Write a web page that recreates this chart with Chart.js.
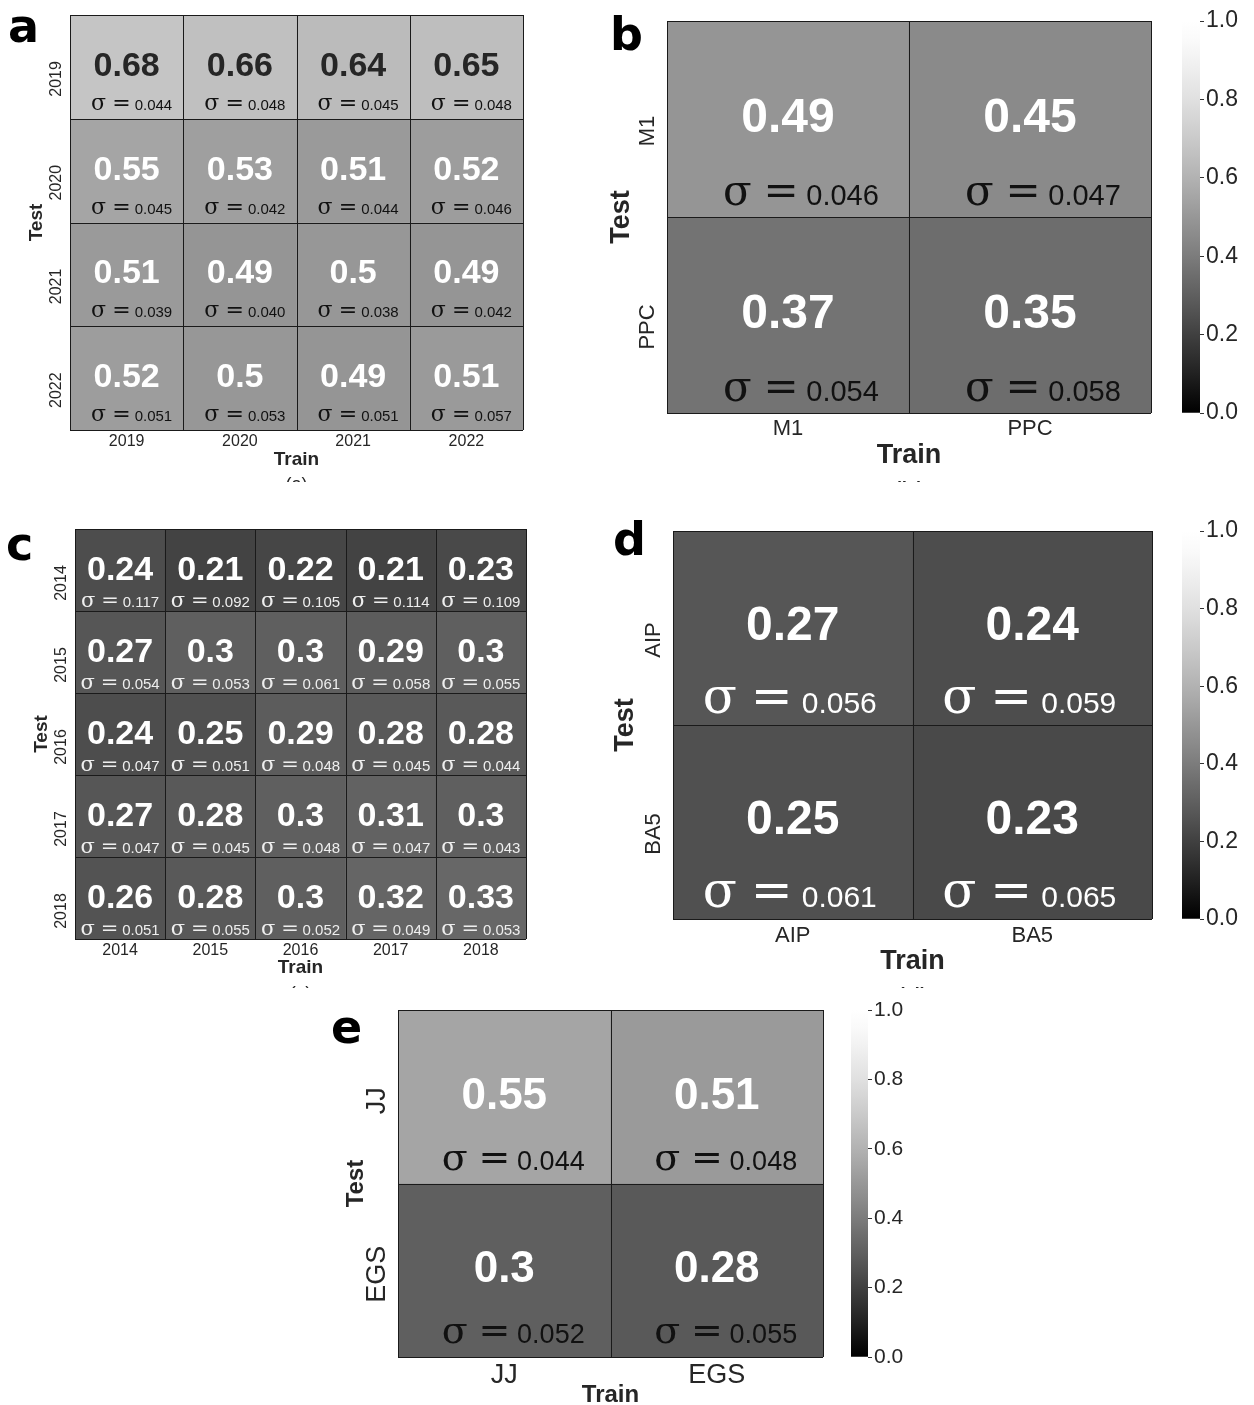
<!DOCTYPE html>
<html>
<head>
<meta charset="utf-8">
<script src="https://cdn.jsdelivr.net/npm/chart.js@4.4.0/dist/chart.umd.min.js"></script>
<style>
body{margin:0;background:#fff}
#fig{position:relative;width:1254px;height:1405px;background:#fff}
#fig canvas{position:absolute}
</style>
</head>
<body>
<div id="fig">
 <canvas id="hmA" width="540" height="482" style="left:0;top:0"></canvas>
 <canvas id="hmB" width="575" height="482" style="left:595px;top:0"></canvas>
 <canvas id="cbB" width="84" height="440" style="left:1170px;top:0"></canvas>
 <canvas id="hmC" width="540" height="498" style="left:0;top:490px"></canvas>
 <canvas id="hmD" width="575" height="498" style="left:595px;top:490px"></canvas>
 <canvas id="cbD" width="84" height="460" style="left:1170px;top:490px"></canvas>
 <canvas id="hmE" width="520" height="415" style="left:320px;top:990px"></canvas>
 <canvas id="cbE" width="80" height="400" style="left:840px;top:990px"></canvas>
</div>
<script>
// (a) train/test across years 2019-2022
const trainA = ['2019','2020','2021','2022'];
const testA  = ['2019','2020','2021','2022'];
const meanA  = [[0.68,0.66,0.64,0.65],[0.55,0.53,0.51,0.52],[0.51,0.49,0.5,0.49],[0.52,0.5,0.49,0.51]];
const sigmaA = [[0.044,0.048,0.045,0.048],[0.045,0.042,0.044,0.046],[0.039,0.040,0.038,0.042],[0.051,0.053,0.051,0.057]];

// (b) M1 / PPC
const trainB = ['M1','PPC'];
const testB  = ['M1','PPC'];
const meanB  = [[0.49,0.45],[0.37,0.35]];
const sigmaB = [[0.046,0.047],[0.054,0.058]];

// (c) years 2014-2018
const trainC = ['2014','2015','2016','2017','2018'];
const testC  = ['2014','2015','2016','2017','2018'];
const meanC  = [[0.24,0.21,0.22,0.21,0.23],[0.27,0.3,0.3,0.29,0.3],[0.24,0.25,0.29,0.28,0.28],[0.27,0.28,0.3,0.31,0.3],[0.26,0.28,0.3,0.32,0.33]];
const sigmaC = [[0.117,0.092,0.105,0.114,0.109],[0.054,0.053,0.061,0.058,0.055],[0.047,0.051,0.048,0.045,0.044],[0.047,0.045,0.048,0.047,0.043],[0.051,0.055,0.052,0.049,0.053]];

// (d) AIP / BA5
const trainD = ['AIP','BA5'];
const testD  = ['AIP','BA5'];
const meanD  = [[0.27,0.24],[0.25,0.23]];
const sigmaD = [[0.056,0.059],[0.061,0.065]];

// (e) JJ / EGS
const trainE = ['JJ','EGS'];
const testE  = ['JJ','EGS'];
const meanE  = [[0.55,0.51],[0.3,0.28]];
const sigmaE = [[0.044,0.048],[0.052,0.055]];

const cbTicks = [0,0.2,0.4,0.6,0.8,1.0];

const SANS = '"Liberation Sans", Arial, sans-serif';
const TXT = '#262626';

// grey colormap, 0 -> black, 1 -> white
function gray(v){
  const t = Math.min(Math.max(v,0),1);
  const g = Math.round(255*(1 - Math.pow(1-t, 1.3)));
  return `rgb(${g},${g},${g})`;
}

function heatmap(id, train, test, mean, sigma, st){
  const n = test.length, m = train.length;
  const datasets = test.map((t,i)=>({
    label:t,
    data: train.map(()=>[n-1-i, n-i]),
    backgroundColor: mean[i].map(gray),
    borderWidth:0,
    barPercentage:1,
    categoryPercentage:1
  }));

  const cellText = {
    id:'cellText',
    afterDraw(chart){
      const {ctx, chartArea:a, scales:{x,y}} = chart;
      ctx.save();
      // cell separators + frame
      ctx.strokeStyle = '#1a1a1a'; ctx.lineWidth = 1;
      ctx.beginPath();
      for(let j=0;j<=m;j++){
        const px = Math.round(x.getPixelForValue(j-0.5))+0.5;
        ctx.moveTo(px, a.top); ctx.lineTo(px, a.bottom);
      }
      for(let k=0;k<=n;k++){
        const py = Math.round(y.getPixelForValue(k))+0.5;
        ctx.moveTo(a.left, py); ctx.lineTo(a.right, py);
      }
      ctx.stroke();

      test.forEach((t,i)=>{
        const top = y.getPixelForValue(n-i), bot = y.getPixelForValue(n-1-i), h = bot-top;
        train.forEach((_,j)=>{
          const cx = x.getPixelForValue(j);
          const v = mean[i][j];
          ctx.textAlign='center'; ctx.textBaseline='alphabetic';
          ctx.font = `bold ${st.val}px ${SANS}`;
          ctx.fillStyle = v > 0.6 ? TXT : '#fff';
          ctx.fillText(String(v), cx, top + h*st.valY + st.val*0.358);
          // sigma annotation
          const sigF = `${st.sig}px "DejaVu Serif", serif`, numF = `${st.num}px ${SANS}`;
          const num = sigma[i][j].toFixed(3);
          ctx.font = sigF;
          const wS = ctx.measureText('σ').width, wE = ctx.measureText('=').width;
          ctx.font = numF;
          const wN = ctx.measureText(num).width;
          const g1 = st.sig*0.28, g2 = st.sig*0.18;
          let sx = cx + st.sigDx - (wS+g1+wE+g2+wN)/2;
          const by = top + h*st.sigY;
          ctx.textAlign='left';
          ctx.fillStyle = st.sigColor;
          ctx.font = sigF; ctx.fillText('σ', sx, by); sx += wS+g1;
          ctx.fillText('=', sx, by); sx += wE+g2;
          ctx.font = numF; ctx.fillText(num, sx, by);
        });
      });
      // tick labels
      ctx.fillStyle = TXT;
      ctx.font = `${st.tick}px ${SANS}`;
      ctx.textAlign='center'; ctx.textBaseline='middle';
      train.forEach((lab,j)=> ctx.fillText(lab, x.getPixelForValue(j), a.bottom + st.xtOff));
      test.forEach((lab,i)=>{
        const cy = y.getPixelForValue(n-i-0.5);
        ctx.save(); ctx.translate(a.left - st.ytOff, cy + st.ytShift); ctx.rotate(-Math.PI/2);
        ctx.fillText(lab,0,0); ctx.restore();
      });
      // axis titles
      ctx.font = `bold ${st.title}px ${SANS}`;
      ctx.fillText('Train', (a.left+a.right)/2, a.bottom + st.trainOff);
      ctx.save(); ctx.translate(a.left - st.testOff, (a.top+a.bottom)/2); ctx.rotate(-Math.PI/2);
      ctx.fillText('Test',0,0); ctx.restore();
      // panel letter
      ctx.textAlign='left'; ctx.textBaseline='alphabetic';
      ctx.fillStyle='#000';
      ctx.font = `bold 46px "DejaVu Sans", sans-serif`;
      ctx.fillText(st.letter, st.lx-2, st.ly);
      // sub-caption, cut by the canvas edge
      if(st.cap){
        ctx.fillStyle = TXT;
        ctx.textAlign='center'; ctx.textBaseline='top';
        ctx.font = `${st.cap.size}px ${SANS}`;
        ctx.fillText('('+st.letter+')', (a.left+a.right)/2, st.cap.top);
      }
      ctx.restore();
    }
  };

  new Chart(document.getElementById(id),{
    type:'bar',
    data:{labels:train, datasets},
    options:{
      responsive:false, animation:false, devicePixelRatio:1,
      layout:{padding:st.pad},
      plugins:{legend:{display:false}, tooltip:{enabled:false}},
      scales:{
        x:{display:false, stacked:true, offset:true},
        y:{display:false, min:0, max:n, stacked:false}
      }
    },
    plugins:[cellText]
  });
}

function colorbar(id, st){
  new Chart(document.getElementById(id),{
    type:'bar',
    data:{labels:[''], datasets:[{
      data:[[0,1]],
      barPercentage:1, categoryPercentage:1, borderWidth:0,
      backgroundColor:c=>{
        const a = c.chart.chartArea;
        if(!a) return '#888';
        const g = c.chart.ctx.createLinearGradient(0,a.bottom,0,a.top);
        for(let k=0;k<=20;k++) g.addColorStop(k/20, gray(k/20));
        return g;
      }
    }]},
    options:{
      responsive:false, animation:false, devicePixelRatio:1,
      layout:{padding:st.pad},
      plugins:{legend:{display:false}, tooltip:{enabled:false}},
      scales:{
        x:{display:false},
        y:{position:'right', min:0, max:1,
           afterBuildTicks:s=>{ s.ticks = cbTicks.map(v=>({value:v})); },
           ticks:{callback:v=>v.toFixed(1), font:{size:st.size, family:SANS}, color:TXT, padding:2},
           grid:{drawOnChartArea:false, drawTicks:true, tickLength:4, color:'#333'},
           border:{display:false},
           afterFit:s=>{ s.width = st.w; }}
      }
    }
  });
}

heatmap('hmA', trainA, testA, meanA, sigmaA, {
  pad:{left:70,top:15,right:17,bottom:52}, val:34, valY:0.47, sig:22, num:15, sigY:0.915, sigDx:5, sigColor:'#111',
  tick:16, ytOff:13, ytShift:12, xtOff:12, title:19, trainOff:30, testOff:33, letter:'a', lx:10, ly:42, cap:{size:18, top:476}});
heatmap('hmB', trainB, testB, meanB, sigmaB, {
  pad:{left:72,top:21,right:19,bottom:69}, val:48, valY:0.48, sig:42, num:29, sigY:0.94, sigDx:13, sigColor:'#111',
  tick:22, ytOff:19, ytShift:12, xtOff:16, title:27, trainOff:43, testOff:45, letter:'b', lx:17, ly:50, cap:{size:28, top:479}});
heatmap('hmC', trainC, testC, meanC, sigmaC, {
  pad:{left:75,top:39,right:14,bottom:49}, val:34, valY:0.476, sig:21, num:15, sigY:0.95, sigDx:0, sigColor:'#eee',
  tick:16, ytOff:13, ytShift:13, xtOff:12, title:19, trainOff:29, testOff:33, letter:'c', lx:8, ly:70, cap:{size:19, top:494}});
heatmap('hmD', trainD, testD, meanD, sigmaD, {
  pad:{left:78,top:41,right:18,bottom:69}, val:48, valY:0.475, sig:50, num:30, sigY:0.94, sigDx:-3, sigColor:'#fff',
  tick:22, ytOff:19, ytShift:12, xtOff:17, title:27, trainOff:43, testOff:47, letter:'d', lx:20, ly:65, cap:{size:28, top:495}});
heatmap('hmE', trainE, testE, meanE, sigmaE, {
  pad:{left:78,top:20,right:17,bottom:48}, val:44, valY:0.478, sig:38, num:27, sigY:0.92, sigDx:9, sigColor:'#111',
  tick:27, ytOff:20, ytShift:4, xtOff:19, title:24, trainOff:38, testOff:42, letter:'e', lx:13, ly:53, cap:null});

colorbar('cbB', {pad:{left:12,top:21,right:0,bottom:27}, w:54, size:23});
colorbar('cbD', {pad:{left:12,top:41,right:0,bottom:31}, w:54, size:23});
colorbar('cbE', {pad:{left:11,top:20,right:0,bottom:33}, w:52, size:21});
</script>
</body>
</html>
